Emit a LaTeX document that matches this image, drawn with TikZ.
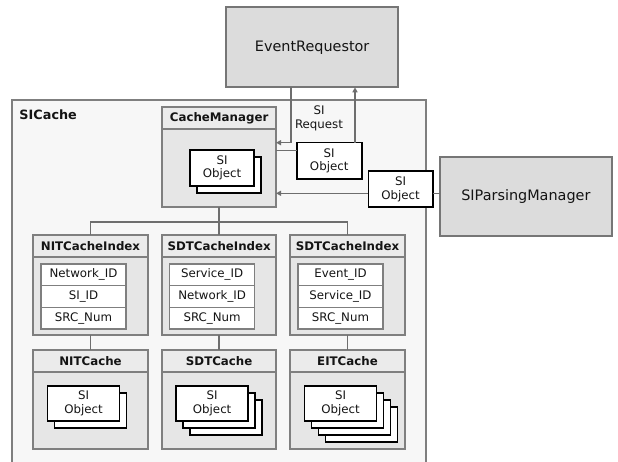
\documentclass[tikz,border=0pt]{standalone}
\usepackage{fontspec}
\setmainfont{DejaVu Sans}
\usetikzlibrary{arrows.meta}

\definecolor{framegray}{HTML}{7F7F7F}
\definecolor{compedge}{HTML}{767676}
\definecolor{compfill}{HTML}{DCDCDC}
\definecolor{cachefill}{HTML}{F7F7F7}
\definecolor{contfill}{HTML}{E6E6E6}
\definecolor{hdrfill}{HTML}{EBEBEB}
\definecolor{linkgray}{HTML}{6E6E6E}
\definecolor{ink}{HTML}{141414}

\tikzset{
  box/.style={rectangle, inner sep=0pt, outer sep=0pt, text=ink},
  comp/.style={box, draw=compedge, fill=compfill, line width=2pt,
    font=\fontsize{14.4}{17}\selectfont},
  cont/.style={box, draw=framegray, fill=contfill, line width=1.8pt},
  hdr/.style={box, draw=framegray, fill=hdrfill, line width=1.8pt,
    font=\bfseries\fontsize{11.8}{14}\selectfont},
  cell/.style={box, draw=framegray, fill=white, line width=1.4pt,
    minimum width=85pt, minimum height=21.67pt,
    font=\fontsize{11.8}{13}\selectfont},
  siobj/.style={box, draw=black, fill=white, line width=1.6pt, align=center,
    font=\fontsize{11.8}{13.5}\selectfont},
  link/.style={draw=linkgray, line width=1.5pt},
  arr/.style={link, -{Triangle[length=5pt,width=5pt]}},
  tree/.style={draw=linkgray, line width=1.8pt},
}

% index container: name, centre x, title, three key rows
\newcommand\indexbox[6]{%
  \node[cont, minimum width=114.4pt, minimum height=100pt] (#1) at (#2,285) {};
  \node[hdr, minimum width=114.4pt, minimum height=21.7pt] (#1h) at (#2,245.85) {#3};
  \node[cell] (#1a) at ({#2-7},274.83) {#4};
  \node[cell] (#1b) at ({#2-7},296.5) {#5};
  \node[cell] (#1c) at ({#2-7},318.17) {#6};
}

% cache container: name, centre x, title, number of layers behind the front object
\newcommand\cachebox[4]{%
  \node[cont, minimum width=114.4pt, minimum height=99.3pt] (#1) at (#2,399.65) {};
  \node[hdr, minimum width=114.4pt, minimum height=21.7pt] (#1h) at (#2,360.85) {#3};
  \foreach \k in {#4,...,1}{
    \node[siobj, minimum width=72pt, minimum height=35.3pt]
      (#1o\k) at ({#2-7+7*\k},{403.35+7*\k}) {};
  }
  \node[siobj, minimum width=72pt, minimum height=35.3pt]
    (#1o0) at ({#2-7},403.35) {SI\\Object};
}

\begin{document}
\begin{tikzpicture}[x=1pt, y=-1pt]
\useasboundingbox (0,0) rectangle (618,462);

% outer SICache container
\node[box, draw=framegray, fill=cachefill, line width=1.8pt,
  minimum width=414pt, minimum height=375pt] (sic) at (218.7,287.5) {};
\node[box, anchor=west, font=\bfseries\fontsize{12.8}{15}\selectfont]
  (sicl) at (19.5,115) {SICache};

% cache manager with its object stack
\node[cont, minimum width=113.7pt, minimum height=99.7pt] (cm) at (219.15,157.15) {};
\node[hdr, minimum width=113.7pt, minimum height=22pt] (cmh) at (219.15,118.3) {CacheManager};
\node[siobj, minimum width=64pt, minimum height=36pt] (cmo1) at (229,175) {};
\node[siobj, minimum width=64pt, minimum height=36pt] (cmo0) at (222,168) {SI\\Object};

% indices
\indexbox{nitidx}{90.5}{NITCacheIndex}{Network\_ID}{SI\_ID}{SRC\_Num}
\indexbox{sdtidx}{219.15}{SDTCacheIndex}{Service\_ID}{Network\_ID}{SRC\_Num}
\indexbox{eitidx}{347.5}{SDTCacheIndex}{Event\_ID}{Service\_ID}{SRC\_Num}

% caches
\cachebox{nitc}{90.5}{NITCache}{1}
\cachebox{sdtc}{219.15}{SDTCache}{2}
\cachebox{eitc}{347.5}{EITCache}{3}

% messages
\node[siobj, minimum width=65pt, minimum height=36.3pt] (req) at (329.2,160.85) {SI\\Object};
\node[siobj, minimum width=64.4pt, minimum height=36.3pt] (par) at (400.5,189.15) {SI\\Object};
\node[box, align=center, font=\fontsize{11.8}{14}\selectfont] (reql) at (319,118.5) {SI\\Request};

% external components
\node[comp, minimum width=172.3pt, minimum height=80pt] (er) at (312.15,47.3) {EventRequestor};
\node[comp, minimum width=171.7pt, minimum height=79.3pt] (spm) at (525.85,196.35) {SIParsingManager};

% request path
\draw[arr] ([xshift=65pt]er.south west) |- ([yshift=14.45pt]cm.east);
\draw[link] ([yshift=10.15pt]req.west) -- ([yshift=10.15pt]req.west -| cm.east);
\draw[arr] ([xshift=-6.7pt]req.north east) -- ([xshift=-6.7pt]req.north east |- er.south);

% parsing path
\draw[arr] ([yshift=-4.15pt]par.west) -- ([yshift=-4.15pt]par.west -| cm.east);
\draw[link] ([yshift=-4.15pt]par.east) -- ([yshift=-4.15pt]par.east -| spm.west);

% manager to indices
\coordinate (bus) at (0,221.7);
\draw[tree] (nitidx.north) |- (bus -| eitidx.north) -- (eitidx.north);
\draw[tree] (cm.south) -- (sdtidx.north);

% indices to caches
\draw[tree] (nitidx.south) -- (nitc.north);
\draw[tree] (sdtidx.south) -- (sdtc.north);
\draw[tree] (eitidx.south) -- (eitc.north);
\end{tikzpicture}
\end{document}
